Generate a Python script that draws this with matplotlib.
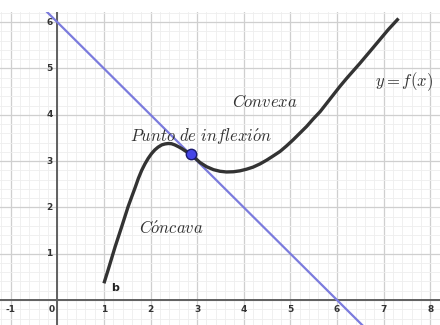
import matplotlib
matplotlib.use("Agg")
import matplotlib.pyplot as plt
from matplotlib.ticker import MultipleLocator

plt.rcParams['mathtext.fontset'] = 'cm'

# curve y = f(x)
curve_x = [1.00, 1.09, 1.24, 1.38, 1.52, 1.60, 1.67, 1.74, 1.81, 1.88, 1.95, 2.02, 2.09,
           2.16, 2.24, 2.31, 2.38, 2.45, 2.52, 2.60, 2.67, 2.76, 2.86, 2.96, 3.06,
           3.20, 3.35, 3.49, 3.63, 3.78, 3.92, 4.06, 4.20, 4.35, 4.49, 4.63, 4.78,
           4.92, 5.06, 5.20, 5.35, 5.49, 5.64, 5.78, 5.92, 6.06, 6.21, 6.35, 6.49,
           6.70, 6.90, 7.10, 7.32]
curve_y = [0.36, 0.65, 1.15, 1.58, 2.02, 2.24, 2.43, 2.63, 2.80, 2.94, 3.06, 3.16, 3.24,
           3.30, 3.35, 3.37, 3.38, 3.375, 3.35, 3.31, 3.27, 3.21, 3.15, 3.06, 2.97,
           2.88, 2.815, 2.78, 2.765, 2.77, 2.79, 2.825, 2.87, 2.94, 3.02, 3.11, 3.21,
           3.33, 3.46, 3.60, 3.75, 3.91, 4.07, 4.25, 4.43, 4.61, 4.79, 4.95, 5.11,
           5.36, 5.60, 5.84, 6.08]

# tangent line y = 6 - x through the inflection point
line_x = [-1.3, 8.3]
line_y = [7.3, -2.3]
infl_x, infl_y = 2.86, 3.15

x_ticks = [-1, 0, 1, 2, 3, 4, 5, 6, 7, 8]
y_ticks = [1, 2, 3, 4, 5, 6]

fig = plt.figure(figsize=(4.4, 3.25), dpi=100)
ax = fig.add_axes([0, 0, 1, 313 / 325])
ax.set_xlim(-1.23, 8.21)
ax.set_ylim(-0.54, 6.22)
for s in ax.spines.values():
    s.set_visible(False)

ax.xaxis.set_major_locator(MultipleLocator(1))
ax.yaxis.set_major_locator(MultipleLocator(1))
ax.xaxis.set_minor_locator(MultipleLocator(0.2))
ax.yaxis.set_minor_locator(MultipleLocator(0.2))
ax.grid(which='major', color='#cfcfcf', lw=0.9)
ax.grid(which='minor', color='#eeeeee', lw=0.6)
ax.tick_params(which='both', length=0, labelbottom=False, labelleft=False)
ax.set_axisbelow(True)

ax.axhline(0, color='#606060', lw=1.4, zorder=1.5)
ax.axvline(0, color='#606060', lw=1.4, zorder=1.5)

for t in x_ticks:
    xx = t - 0.12 if t == 0 else t
    ax.text(xx, -0.1, str(t), ha='center', va='top', fontsize=6.5,
            color='#333333', fontweight='bold')
for t in y_ticks:
    ax.text(-0.1, t, str(t), ha='right', va='center', fontsize=6.5,
            color='#333333', fontweight='bold')

ax.plot(line_x, line_y, color='#7b7bdd', lw=1.6, zorder=3)
ax.plot(curve_x, curve_y, color='#333333', lw=2.4, zorder=4,
        solid_capstyle='butt', solid_joinstyle='round')
ax.plot([infl_x], [infl_y], 'o', ms=7.5, mfc='#4545e6', mec='#1a1a70', mew=1.0, zorder=5)

txt_color = '#333333'
fs = 12
ax.text(4.45, 4.28, r'$Convexa$', ha='center', va='center', fontsize=fs, color=txt_color)
ax.text(3.09, 3.52, r'$Punto\ de\ inflexi\acute{o}n$', ha='center', va='center',
        fontsize=fs, color=txt_color)
ax.text(2.45, 1.53, r'$C\acute{o}ncava$', ha='center', va='center', fontsize=fs, color=txt_color)
ax.text(7.44, 4.71, r'$y = f(x)$', ha='center', va='center', fontsize=fs, color=txt_color)
ax.text(1.24, 0.26, 'b', ha='center', va='center', fontsize=8, color='#222222', fontweight='bold')

fig.savefig('out.png', dpi=100)
